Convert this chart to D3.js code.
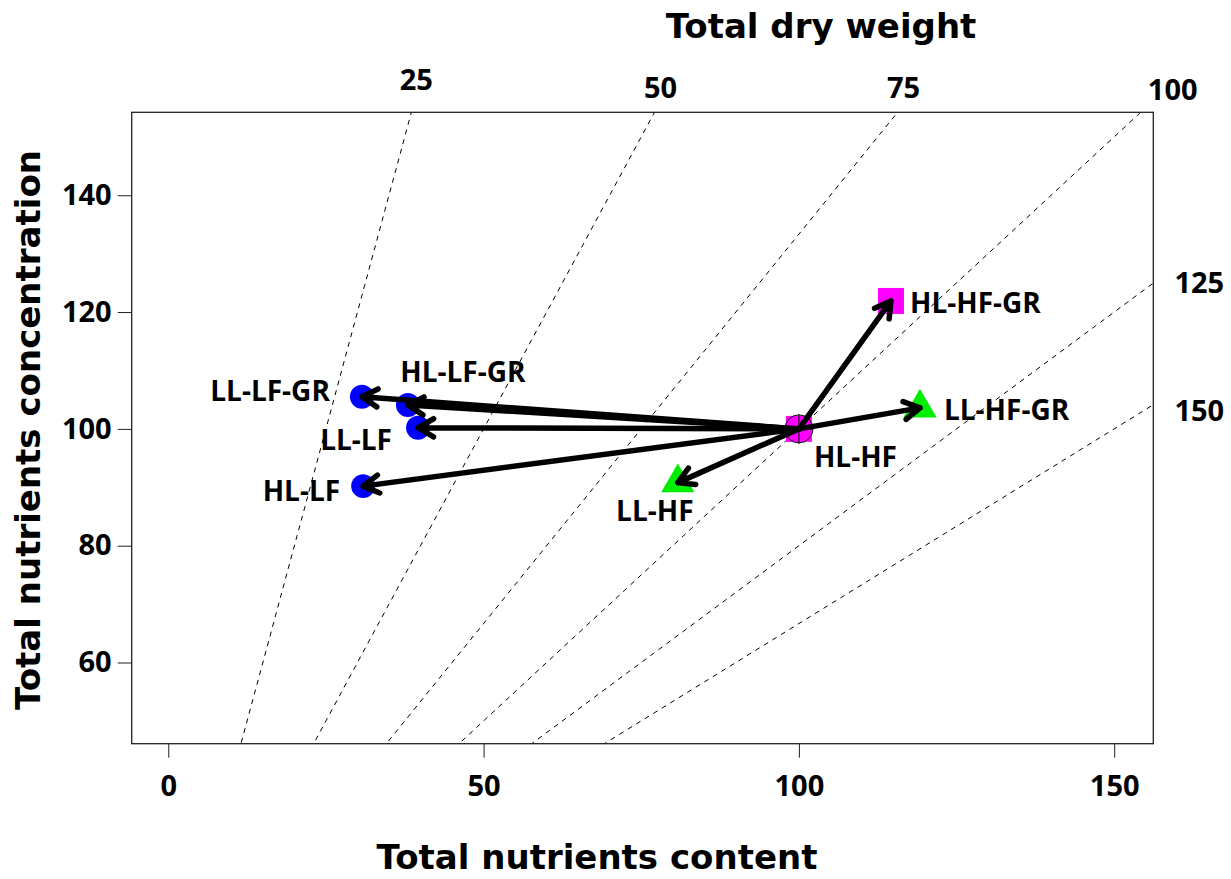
<!DOCTYPE html>
<html>
<head>
<meta charset="utf-8">
<script src="https://cdn.jsdelivr.net/npm/d3@7"></script>
<style>
  body { margin: 0; background: #fff; }
  svg { display: block; }
</style>
</head>
<body>
<svg id="chart" width="1231" height="879"></svg>
<script>
// treatments
var treatments = ["HL-HF", "HL-HF-GR", "LL-HF-GR", "LL-HF", "HL-LF", "LL-LF", "HL-LF-GR", "LL-LF-GR"];
var content = [100, 114.6, 119.2, 80.8, 30.9, 39.6, 38.0, 30.7];
var concentration = [100, 121.9, 103.6, 90.8, 90.2, 100.2, 104.1, 105.5];
var shapes = ["square", "square", "triangle", "triangle", "circle", "circle", "circle", "circle"];
var colors = ["#ff00ff", "#ff00ff", "#00ee00", "#00ee00", "#0000ff", "#0000ff", "#0000ff", "#0000ff"];

// dry weight isolines
var dryWeights = [25, 50, 75, 100, 125, 150];
var xTicks = [0, 50, 100, 150];
var yTicks = [60, 80, 100, 120, 140];

var svg = d3.select("#chart");
var plotL = 131.7, plotR = 1153.3, plotT = 112.3, plotB = 743.7;

var x = d3.scaleLinear().domain([-5.8, 156.2]).range([plotL, plotR]);
var y = d3.scaleLinear().domain([46.1, 154.2]).range([plotB, plotT]);

var labelFont = "'Open Sans', sans-serif";
var titleFont = "'DejaVu Sans', Verdana, sans-serif";

svg.append("defs").append("clipPath")
    .attr("id", "plotclip")
  .append("rect")
    .attr("x", plotL).attr("y", plotT)
    .attr("width", plotR - plotL).attr("height", plotB - plotT);

// isolines: concentration = 100 * content / weight
var line = d3.line()
    .x(function (d) { return x(d[0]); })
    .y(function (d) { return y(d[1]); });

svg.append("g")
    .attr("clip-path", "url(#plotclip)")
  .selectAll("path")
    .data(dryWeights)
  .enter().append("path")
    .attr("d", function (w) {
        return line([[0, 0], [200, 200 * 100 / w]]);
    })
    .attr("fill", "none")
    .attr("stroke", "#000")
    .attr("stroke-width", 1)
    .attr("stroke-dasharray", "5,5");

// isoline labels: top edge for the steep ones, right edge for the flat ones
var yMax = y.domain()[1], xMax = x.domain()[1];
svg.append("g").selectAll("text")
    .data(dryWeights)
  .enter().append("text")
    .attr("x", function (w) {
        var xt = yMax * w / 100;
        if (xt <= xMax) return w == 100 ? x(xt) + 32 : x(xt) + (w == 25 ? 5 : 6);
        return plotR + 46;
    })
    .attr("y", function (w) {
        var xt = yMax * w / 100;
        if (xt <= xMax) return w == 25 ? 90 : (w == 100 ? 100 : 98);
        return y(xMax * 100 / w) + (w == 150 ? 16 : 10);
    })
    .attr("text-anchor", "middle")
    .style("font-family", labelFont)
    .style("font-weight", 700)
    .style("font-size", "29px")
    .text(function (w) { return w; });

// axes
var yAxis = svg.append("g")
    .attr("transform", "translate(" + plotL + ",0)")
    .call(d3.axisLeft(y).tickValues(yTicks).tickSize(14).tickSizeOuter(0).tickPadding(6));
var xAxis = svg.append("g")
    .attr("transform", "translate(0," + plotB + ")")
    .call(d3.axisBottom(x).tickValues(xTicks).tickSize(14).tickSizeOuter(0).tickPadding(18));

[xAxis, yAxis].forEach(function (g) {
    g.select(".domain").remove();
    g.selectAll("line").attr("stroke", "#222");
    g.selectAll("text")
        .attr("fill", "#000")
        .style("font-family", labelFont)
        .style("font-weight", 700)
        .style("font-size", "29px");
});

svg.append("rect")
    .attr("x", plotL).attr("y", plotT)
    .attr("width", plotR - plotL).attr("height", plotB - plotT)
    .attr("fill", "none")
    .attr("stroke", "#222")
    .attr("stroke-width", 1.3);

// markers
var points = treatments.map(function (t, i) {
    return {name: t, cx: content[i], cy: concentration[i], shape: shapes[i], color: colors[i]};
});

var symbolType = {square: d3.symbolSquare, triangle: d3.symbolTriangle, circle: d3.symbolCircle};
var symbolSize = {square: 676, triangle: 480, circle: 450};

svg.append("g").selectAll("path")
    .data(points)
  .enter().append("path")
    .attr("transform", function (d) {
        return "translate(" + x(d.cx) + "," + y(d.cy) + ")";
    })
    .attr("d", function (d) {
        return d3.symbol().type(symbolType[d.shape]).size(symbolSize[d.shape])();
    })
    .attr("fill", function (d) { return d.color; });

// circle-plus around the reference treatment
var ref = points[0];
var refMark = svg.append("g")
    .attr("transform", "translate(" + x(ref.cx) + "," + y(ref.cy) + ")");
refMark.append("circle").attr("r", 14).attr("fill", "none").attr("stroke", "#000").attr("stroke-width", 1);
refMark.append("line").attr("x1", 0).attr("x2", 0).attr("y1", -15).attr("y2", 15).attr("stroke", "#000");
refMark.append("line").attr("x1", -15).attr("x2", 15).attr("y1", 0).attr("y2", 0).attr("stroke", "#000");

// arrows from the reference to every other treatment
var headLen = 18, headAngle = Math.PI / 6;
var arrows = svg.append("g")
    .attr("stroke", "#000")
    .attr("stroke-width", 5.5)
    .attr("stroke-linecap", "round")
    .attr("stroke-linejoin", "round")
    .attr("fill", "none");

arrows.selectAll("path")
    .data(points.slice(1))
  .enter().append("path")
    .attr("d", function (d) {
        var x0 = x(ref.cx), y0 = y(ref.cy), x1 = x(d.cx), y1 = y(d.cy);
        var a = Math.atan2(y1 - y0, x1 - x0);
        var p = d3.path();
        p.moveTo(x0, y0);
        p.lineTo(x1, y1);
        p.moveTo(x1 - headLen * Math.cos(a - headAngle), y1 - headLen * Math.sin(a - headAngle));
        p.lineTo(x1, y1);
        p.lineTo(x1 - headLen * Math.cos(a + headAngle), y1 - headLen * Math.sin(a + headAngle));
        return p.toString();
    });

// point labels (pixel offsets from each marker)
var labelOffsets = {
    "HL-HF": [15, 28, "start"],
    "HL-HF-GR": [19, 2, "start"],
    "LL-HF-GR": [24, 2, "start"],
    "LL-HF": [-23, 29, "middle"],
    "HL-LF": [-23, 5, "end"],
    "LL-LF": [-26, 12, "end"],
    "HL-LF-GR": [55, -33, "middle"],
    "LL-LF-GR": [-32, -6, "end"]
};

svg.append("g").selectAll("text")
    .data(points)
  .enter().append("text")
    .attr("x", function (d) { return x(d.cx) + labelOffsets[d.name][0]; })
    .attr("y", function (d) { return y(d.cy) + labelOffsets[d.name][1]; })
    .attr("dy", "0.35em")
    .attr("text-anchor", function (d) { return labelOffsets[d.name][2]; })
    .style("font-family", labelFont)
    .style("font-weight", 700)
    .style("font-size", "28px")
    .text(function (d) { return d.name; });

// titles
svg.append("text")
    .attr("x", 821).attr("y", 38)
    .attr("text-anchor", "middle")
    .style("font-family", titleFont)
    .style("font-weight", 700)
    .style("font-size", "34px")
    .text("Total dry weight");

svg.append("text")
    .attr("x", 597).attr("y", 869)
    .attr("text-anchor", "middle")
    .style("font-family", titleFont)
    .style("font-weight", 700)
    .style("font-size", "34px")
    .text("Total nutrients content");

svg.append("text")
    .attr("transform", "translate(40,430) rotate(-90)")
    .attr("text-anchor", "middle")
    .style("font-family", titleFont)
    .style("font-weight", 700)
    .style("font-size", "34px")
    .text("Total nutrients concentration");
</script>
</body>
</html>
